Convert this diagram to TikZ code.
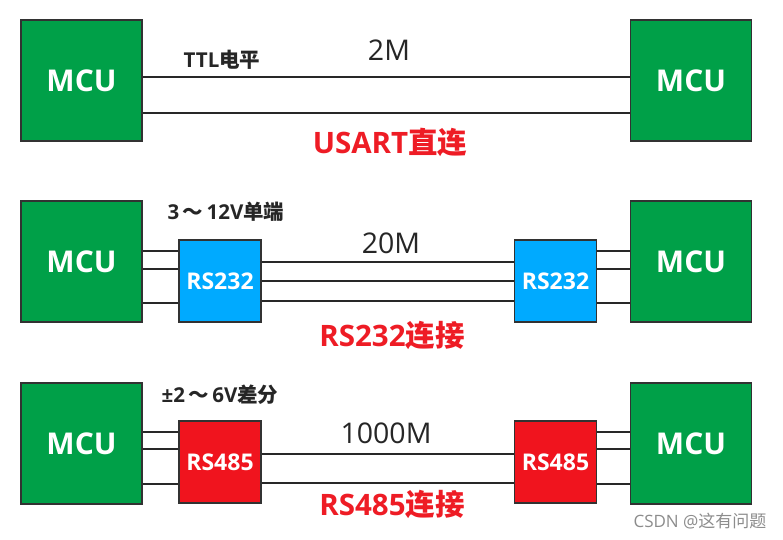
\documentclass[tikz,border=0pt]{standalone}
\usepackage{fontspec}
\setmainfont{Open Sans}
\newfontfamily\cjk{Noto Sans CJK SC}
\definecolor{mcugreen}{RGB}{0,160,72}
\definecolor{rsblue}{RGB}{0,170,255}
\definecolor{rsred}{RGB}{240,20,30}
\definecolor{titlered}{RGB}{238,28,37}
\definecolor{edge}{RGB}{50,50,50}
\definecolor{wire}{RGB}{40,40,40}
\tikzset{
  mcubox/.style={draw=edge, line width=1.6pt, fill=mcugreen, minimum width=121pt, minimum height=121pt, inner sep=0pt, text=white, font=\fontsize{30}{30}\selectfont\bfseries},
  rsbox/.style={draw=edge, line width=1.6pt, minimum width=82pt, minimum height=82pt, inner sep=0pt, text=white, font=\fontsize{23}{23}\selectfont\bfseries},
  wireln/.style={draw=wire, line width=1.6pt},
  speed/.style={font=\fontsize{28.5}{28.5}\selectfont, text=black!85, inner sep=0pt},
  level/.style={font=\fontsize{20.5}{20.5}\selectfont\bfseries, text=black!85, inner sep=0pt},
  title/.style={font=\fontsize{29.5}{29.5}\selectfont\bfseries, text=titlered, inner sep=0pt},
}
\begin{document}
\begin{tikzpicture}[x=1pt,y=-1pt]
\useasboundingbox (0,0) rectangle (783,539);
% Row 1
\node[mcubox] (m1l) at (81.5,80.5) {MCU};
\node[mcubox] (m1r) at (691,80.5) {MCU};
\draw[wireln] ([yshift=3.5pt]m1l.east) -- ([yshift=3.5pt]m1l.east -| m1r.west);
\draw[wireln] ([yshift=-32.5pt]m1l.east) -- ([yshift=-32.5pt]m1l.east -| m1r.west);
\node[level] (t1) at (222,60) {TTL{\cjk 电平}};
\node[speed] (s1) at (389,50) {2M};
\node[title] (u1) at (390,142) {USART{\cjk 直连}};
% Row 2
\node[mcubox] (m2l) at (81.5,261.5) {MCU};
\node[mcubox] (m2r) at (691,261.5) {MCU};
\node[rsbox, fill=rsblue] (r2l) at (220,281) {RS232};
\node[rsbox, fill=rsblue] (r2r) at (555.5,281) {RS232};
\foreach \s in {30,12,-22}{
  \draw[wireln] ([yshift=\s pt]r2l.west) -- ([yshift=\s pt]r2l.west -| m2l.east);
  \draw[wireln] ([yshift=\s pt]r2r.east) -- ([yshift=\s pt]r2r.east -| m2r.west);
}
\foreach \s in {19,0,-20}{
  \draw[wireln] ([yshift=\s pt]r2l.east) -- ([yshift=\s pt]r2l.east -| r2r.west);
}
\node[level] (t2) at (226,212) {3\,{\cjk ～}\,12V{\cjk 单端}};
\node[speed] (s2) at (391,243) {20M};
\node[title] (u2) at (392,335) {RS232{\cjk 连接}};
% Row 3
\node[mcubox] (m3l) at (81.5,443.5) {MCU};
\node[mcubox] (m3r) at (691,443.5) {MCU};
\node[rsbox, fill=rsred] (r3l) at (220,462) {RS485};
\node[rsbox, fill=rsred] (r3r) at (555.5,462) {RS485};
\foreach \s in {30,13,-22}{
  \draw[wireln] ([yshift=\s pt]r3l.west) -- ([yshift=\s pt]r3l.west -| m3l.east);
  \draw[wireln] ([yshift=\s pt]r3r.east) -- ([yshift=\s pt]r3r.east -| m3r.west);
}
\foreach \s in {8,-21}{
  \draw[wireln] ([yshift=\s pt]r3l.east) -- ([yshift=\s pt]r3l.east -| r3r.west);
}
\node[level] (t3) at (220,395) {±2\,{\cjk ～}\,6V{\cjk 差分}};
\node[speed] (s3) at (386,433) {1000M};
\node[title] (u3) at (392,504) {RS485{\cjk 连接}};
% watermark
\node[font=\fontsize{17}{17}\selectfont, text=black!45, inner sep=0pt] (wm) at (700,521) {CSDN @{\cjk 这有问题}};
\end{tikzpicture}
\end{document}
